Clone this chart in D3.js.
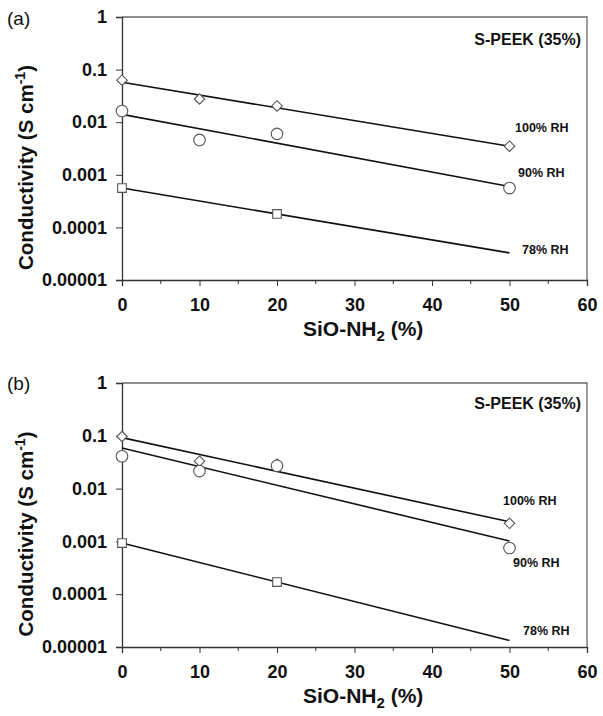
<!DOCTYPE html>
<html>
<head>
<meta charset="utf-8">
<script src="https://cdn.jsdelivr.net/npm/d3@7"></script>
<style>
  body { margin: 0; background: #fff; }
  text { font-family: Arial, "Liberation Sans", sans-serif; fill: #111; }
</style>
</head>
<body>
<div id="chart"></div>
<script>
// tick values and labels
var xTicks = [0, 10, 20, 30, 40, 50, 60];
var xMinorTicks = [5, 15, 25, 35, 45, 55];
var yTicks = [1, 0.1, 0.01, 0.001, 0.0001, 0.00001];
var yTickLabels = ["1", "0.1", "0.01", "0.001", "0.0001", "0.00001"];
var rhLabels = ["100% RH", "90% RH", "78% RH"];
var panelTags = ["(a)", "(b)"];

// panel (a) data
var aX100 = [0, 10, 20, 50];
var aY100 = [0.063, 0.0276, 0.0204, 0.0035];
var aX90 = [0, 10, 20, 50];
var aY90 = [0.0163, 0.0046, 0.006, 0.00056];
var aX78 = [0, 20];
var aY78 = [0.00056, 0.00018];

// panel (b) data
var bX100 = [0, 10, 20, 50];
var bY100 = [0.097, 0.033, 0.029, 0.0022];
var bX90 = [0, 10, 20, 50];
var bY90 = [0.041, 0.0215, 0.027, 0.00075];
var bX78 = [0, 20];
var bY78 = [0.00093, 0.00017];

var svg = d3.select("#chart").append("svg").attr("width", 603).attr("height", 716)

var panels = [
  {tag: panelTags[0], left: 122, top: 17, w: 465, h: 263,
   series: [[aX100, aY100, "diamond"], [aX90, aY90, "circle"], [aX78, aY78, "square"]],
   labelPos: [[393, 115], [396, 160], [400, 237]], peekY: 28, tagY: 25},
  {tag: panelTags[1], left: 122, top: 383, w: 465, h: 264,
   series: [[bX100, bY100, "diamond"], [bX90, bY90, "circle"], [bX78, bY78, "square"]],
   labelPos: [[381, 122], [391, 184], [401, 252]], peekY: 26, tagY: 390}
];

// exponential trend line (least squares on log10 values)
function expFit(xs, ys) {
  var ly = ys.map(function(v) { return Math.log10(v) })
  var mx = d3.mean(xs), my = d3.mean(ly)
  var sxy = d3.sum(xs, function(x, i) { return (x - mx) * (ly[i] - my) })
  var sxx = d3.sum(xs, function(x) { return (x - mx) * (x - mx) })
  var b = sxy / sxx
  var a = my - b * mx
  return function(x) { return Math.pow(10, a + b * x) }
}

panels.forEach(function(p) {
  var g = svg.append("g").attr("transform", "translate(" + p.left + "," + p.top + ")")
  var x = d3.scaleLinear().domain([0, 60]).range([0, p.w])
  var y = d3.scaleLog().domain([0.00001, 1]).range([p.h, 0])

  // border (top/right)
  g.append("path")
    .attr("d", "M0,0H" + p.w + "V" + p.h)
    .attr("fill", "none").attr("stroke", "#6a6a6a").attr("stroke-width", 1.3)

  // y axis
  var yAxis = d3.axisLeft(y).tickValues(yTicks)
    .tickFormat(function(d, i) { return yTickLabels[i] }).tickSize(6).tickPadding(9)
  var ya = g.append("g").call(yAxis)
  ya.selectAll("text").style("font-size", "18px").style("font-weight", "bold").attr("fill", "#111")

  // x axis
  var xAxis = d3.axisBottom(x).tickValues(xTicks).tickSize(6).tickPadding(12)
  var xa = g.append("g").attr("transform", "translate(0," + p.h + ")").call(xAxis)
  xa.selectAll("text").style("font-size", "18px").style("font-weight", "bold").attr("fill", "#111")
  g.append("g").attr("transform", "translate(0," + p.h + ")")
    .selectAll("line").data(xMinorTicks).enter().append("line")
    .attr("x1", function(d) { return x(d) }).attr("x2", function(d) { return x(d) })
    .attr("y1", 0).attr("y2", 4).attr("stroke", "#333")
  svg.selectAll(".domain").attr("stroke", "#333").attr("stroke-width", 1.3)
  svg.selectAll(".tick line").attr("stroke", "#333")

  // trend lines
  p.series.forEach(function(s) {
    var f = expFit(s[0], s[1])
    g.append("line")
      .attr("x1", x(0)).attr("y1", y(f(0)))
      .attr("x2", x(50)).attr("y2", y(f(50)))
      .attr("stroke", "#111").attr("stroke-width", 1.6)
  })

  // markers
  p.series.forEach(function(s) {
    var shape = s[2] == "diamond" ? d3.symbolDiamond2 : (s[2] == "circle" ? d3.symbolCircle : d3.symbolSquare2)
    var size = s[2] == "diamond" ? 70 : (s[2] == "circle" ? 105 : 95)
    g.append("g").selectAll("path").data(s[0]).enter().append("path")
      .attr("transform", function(d, i) { return "translate(" + x(d) + "," + y(s[1][i]) + ")" })
      .attr("d", d3.symbol().type(shape).size(size))
      .attr("fill", "#fff").attr("stroke", "#555").attr("stroke-width", 1.1)
  })

  // series labels
  rhLabels.forEach(function(t, i) {
    g.append("text").attr("x", p.labelPos[i][0]).attr("y", p.labelPos[i][1])
      .style("font-size", "12.5px").style("font-weight", "bold").text(t)
  })

  g.append("text").attr("x", p.w - 6).attr("y", p.peekY).attr("text-anchor", "end")
    .style("font-size", "16px").style("font-weight", "bold").text("S-PEEK (35%)")

  // axis titles
  var xt = g.append("text").attr("x", 181).attr("y", p.h + 56)
    .style("font-size", "21px").style("font-weight", "bold")
  xt.append("tspan").text("SiO-NH")
  xt.append("tspan").attr("dy", 5).style("font-size", "15px").text("2")
  xt.append("tspan").attr("dy", -5).text(" (%)")

  var yt = svg.append("text")
    .attr("transform", "translate(33," + (p.top + p.h / 2 + 19) + ") rotate(-90)")
    .attr("text-anchor", "middle").style("font-size", "20.5px").style("font-weight", "bold")
  yt.append("tspan").text("Conductivity (S cm")
  yt.append("tspan").attr("dy", -8).style("font-size", "14px").text("-1")
  yt.append("tspan").attr("dy", 8).text(")")

  svg.append("text").attr("x", 7).attr("y", p.tagY)
    .style("font-size", "19px").text(p.tag)
})
</script>
</body>
</html>
